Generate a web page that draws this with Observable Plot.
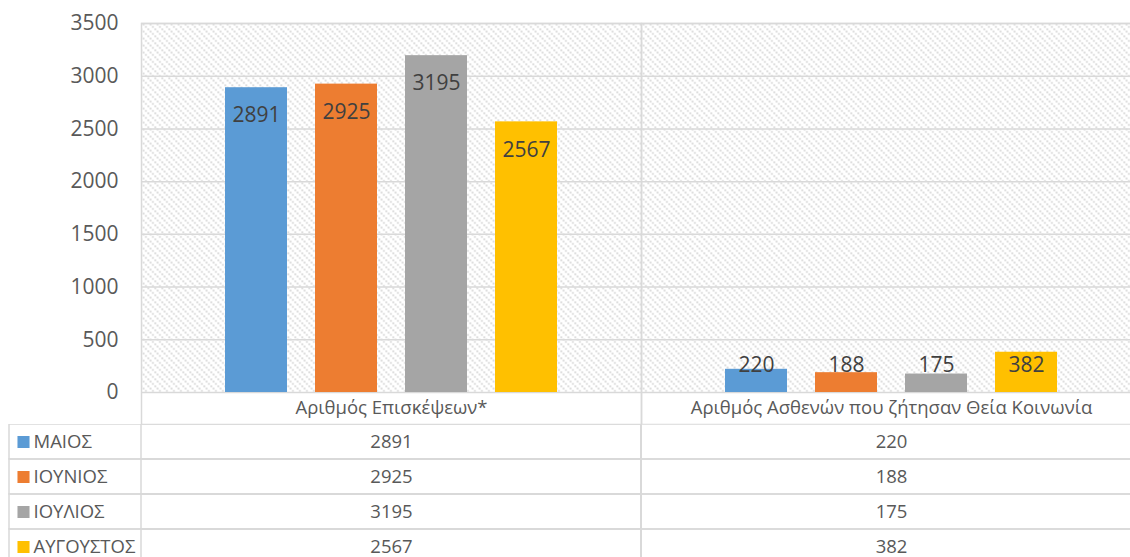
<!DOCTYPE html>
<html>
<head>
<meta charset="utf-8">
<script src="https://cdn.jsdelivr.net/npm/d3@7"></script>
<script src="https://cdn.jsdelivr.net/npm/@observablehq/plot@0.6"></script>
<style>
  html, body { margin: 0; padding: 0; overflow: hidden; background: white; }
  #chart svg { display: block; max-width: none !important; }
</style>
</head>
<body>
<div id="chart"></div>
<script>
// ---- Data ----
const categories = ["Αριθμός Επισκέψεων*", "Αριθμός Ασθενών που ζήτησαν Θεία Κοινωνία"];
const months = ["ΜΑΙΟΣ", "ΙΟΥΝΙΟΣ", "ΙΟΥΛΙΟΣ", "ΑΥΓΟΥΣΤΟΣ"];
const visits = [2891, 2925, 3195, 2567];
const communion = [220, 188, 175, 382];
const monthColors = ["#5B9BD5", "#ED7D31", "#A5A5A5", "#FFC000"];
const yTicks = [0, 500, 1000, 1500, 2000, 2500, 3000, 3500];

const seriesByCategory = [visits, communion];
const rows = categories.flatMap((c, ci) =>
  months.map((m, mi) => ({category: c, month: m, value: seriesByCategory[ci][mi]})));

// ---- Layout ----
const W = 1141, H1 = 424, MT = 23, MB = 32, ML = 141;
const grid = "#d9d9d9";
const pxPerUnit = (H1 - MT - MB) / (yTicks[yTicks.length - 1] - yTicks[0]);
// Excel "inside end" labels, kept above the axis for short bars
const labelY = v => Math.max(v - 28 / pxPerUnit, 27 / pxPerUnit);

const chart = Plot.plot({
  width: W, height: H1,
  marginLeft: ML, marginRight: 0, marginTop: MT, marginBottom: MB,
  style: {fontFamily: "'Open Sans', sans-serif", fontSize: "19px", color: "#595959", background: "white"},
  fx: {domain: categories, padding: 0},
  x: {domain: months, paddingInner: 0.311, paddingOuter: 0.933, axis: null},
  y: {domain: [0, 3500], axis: null},
  color: {domain: months, range: monthColors},
  marks: [
    Plot.frame({fill: "url(#hatch)", stroke: "none"}),
    Plot.gridY(yTicks, {stroke: grid, strokeOpacity: 1, strokeWidth: 1.5}),
    Plot.frame({stroke: grid, strokeWidth: 1.5, insetBottom: -MB}),
    Plot.axisY(yTicks, {tickSize: 0, tickPadding: 23, fontSize: 21, label: null, tickFormat: d => String(d), fill: "#595959"}),
    Plot.axisFx({anchor: "bottom", tickSize: 0, tickPadding: 8, fontSize: 18.5, label: null}),
    Plot.barY(rows, {fx: "category", x: "month", y: "value", fill: "month"}),
    Plot.text(rows, {fx: "category", x: "month", y: d => labelY(d.value), text: d => String(d.value),
      fontSize: 21, fill: "#404040"})
  ]
});

d3.select(chart).insert("defs", ":first-child").html(
  `<pattern id="hatch" patternUnits="userSpaceOnUse" width="7" height="7">
     <rect x="0" y="0" width="1.5" height="1.5" fill="#c4c4c4"/>
     <rect x="2.33" y="2.33" width="1.5" height="1.5" fill="#c4c4c4"/>
     <rect x="4.67" y="4.67" width="1.5" height="1.5" fill="#c4c4c4"/>
   </pattern>`);

// ---- Data table ----
const table = Plot.plot({
  width: W, height: 140,
  marginLeft: ML, marginRight: 0, marginTop: 0, marginBottom: 0,
  style: {fontFamily: "'Open Sans', sans-serif", fontSize: "18.5px", color: "#595959", background: "white"},
  x: {domain: categories, padding: 0, axis: null},
  y: {domain: months, padding: 0, axis: null},
  color: {domain: months, range: monthColors},
  marks: [
    Plot.cell(months, {x: () => categories[0], y: d => d, insetLeft: -(ML - 9), fill: "none", stroke: grid, strokeWidth: 1.5}),
    Plot.cell(rows, {x: "category", y: "month", fill: "none", stroke: grid, strokeWidth: 1.5}),
    Plot.text(rows, {x: "category", y: "month", text: d => String(d.value), fill: "#595959"}),
    Plot.dot(months, {y: d => d, frameAnchor: "left", dx: 23 - ML, symbol: "square", r: 6.8, fill: d => d, stroke: "none"}),
    Plot.text(months, {y: d => d, text: d => d, frameAnchor: "left", dx: 33 - ML, textAnchor: "start", fill: "#595959"})
  ]
});

document.getElementById("chart").append(chart, table);
</script>
</body>
</html>
